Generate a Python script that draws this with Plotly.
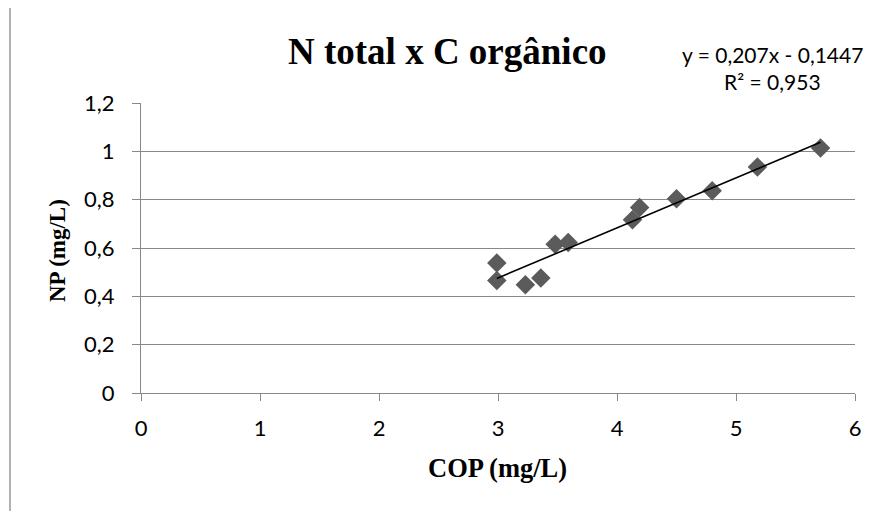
import plotly.graph_objects as go

# Data
cop = [2.99, 2.99, 3.23, 3.36, 3.48, 3.59, 4.13, 4.19, 4.50, 4.80, 5.18, 5.71]
np_vals = [0.538, 0.466, 0.448, 0.476, 0.616, 0.623, 0.717, 0.768, 0.804, 0.837, 0.935, 1.014]
trend_slope = 0.207
trend_intercept = -0.1447
equation_text = "y = 0,207x - 0,1447"
r2_text = "R² = 0,953"
title_text = "N total x C orgânico"
x_title = "COP (mg/L)"
y_title = "NP (mg/L)"

# page offset of the figure (body margin)
OFF = 8
W, H = 879 - OFF, 511 - OFF
L, T = 141 - OFF, 103 - OFF
R = W - (855 - OFF)
B = H - (393 - OFF)
PW, PH = W - L - R, H - T - B


def px2x(px):
    return (px - OFF - L) / PW


def py2y(py):
    return (H - B - (py - OFF)) / PH


trend_x = [min(cop), max(cop)]
trend_y = [trend_slope * v + trend_intercept for v in trend_x]

fig = go.Figure()
fig.add_trace(go.Scatter(
    x=cop, y=np_vals, mode="markers",
    marker=dict(symbol="diamond", size=15, color="#5b5b5b", line=dict(width=0)),
    showlegend=False, hoverinfo="skip"))
fig.add_trace(go.Scatter(
    x=trend_x, y=trend_y, mode="lines",
    line=dict(color="black", width=1.6),
    showlegend=False, hoverinfo="skip"))

axis_col = "#888888"
tick_font = dict(family="Lato", size=22, color="black")

fig.update_layout(
    width=W, height=H,
    margin=dict(l=L, r=R, t=T, b=B, pad=0),
    paper_bgcolor="white", plot_bgcolor="white",
    separators=", ",
    xaxis=dict(range=[0, 6], dtick=1, tick0=0, showgrid=False, zeroline=False,
               showline=True, linecolor=axis_col, linewidth=1.3,
               ticks="outside", ticklen=7, tickcolor=axis_col, tickwidth=1.3,
               tickfont=tick_font, ticklabelstandoff=8),
    yaxis=dict(range=[0, 1.2], dtick=0.2, tick0=0, showgrid=True,
               gridcolor=axis_col, gridwidth=1.3, zeroline=False,
               showline=True, linecolor=axis_col, linewidth=1.3,
               ticks="outside", ticklen=8, tickcolor=axis_col, tickwidth=1.3,
               tickfont=tick_font, ticklabelstandoff=13),
    shapes=[dict(type="rect", xref="paper", yref="paper",
                 x0=px2x(10), x1=px2x(905), y0=py2y(540), y1=py2y(7),
                 line=dict(color=axis_col, width=1.3), fillcolor="rgba(0,0,0,0)",
                 layer="below")],
    annotations=[
        dict(text=title_text, xref="paper", yref="paper", x=px2x(447), y=py2y(51),
             xanchor="center", yanchor="middle", showarrow=False,
             font=dict(family="Liberation Serif", size=37, color="black", weight="bold")),
        dict(text=equation_text, xref="paper", yref="paper", x=px2x(772), y=py2y(55),
             xanchor="center", yanchor="middle", showarrow=False,
             font=dict(family="Lato", size=21, color="black")),
        dict(text=r2_text, xref="paper", yref="paper", x=px2x(772), y=py2y(81),
             xanchor="center", yanchor="middle", showarrow=False,
             font=dict(family="Lato", size=21, color="black")),
        dict(text=x_title, xref="paper", yref="paper", x=px2x(497), y=py2y(468),
             xanchor="center", yanchor="middle", showarrow=False,
             font=dict(family="Liberation Serif", size=26.5, color="black", weight="bold")),
        dict(text=y_title, xref="paper", yref="paper", x=px2x(57), y=py2y(251),
             xanchor="center", yanchor="middle", showarrow=False, textangle=-90,
             font=dict(family="Liberation Serif", size=23, color="black", weight="bold")),
    ],
)

fig.write_html("out.html")
